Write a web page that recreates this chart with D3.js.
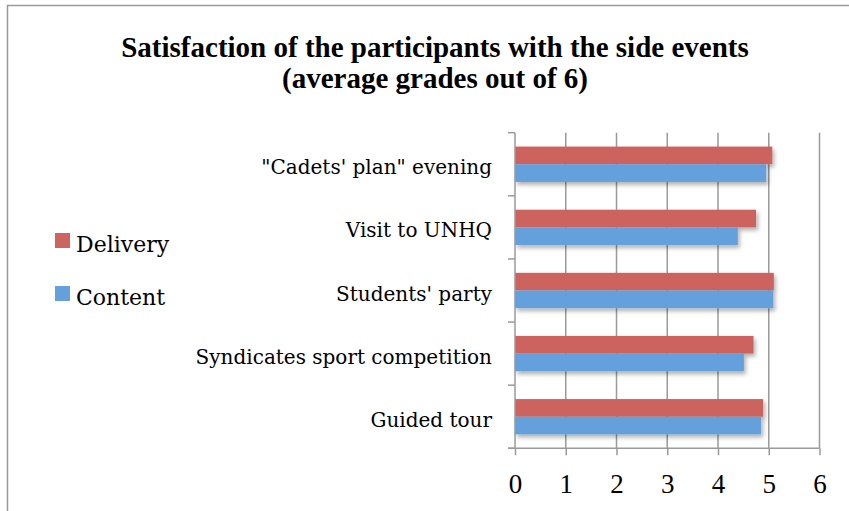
<!DOCTYPE html>
<html>
<head>
<meta charset="utf-8">
<script src="https://cdn.jsdelivr.net/npm/d3@7"></script>
<style>
  html, body { margin: 0; padding: 0; background: #fff; }
  svg { display: block; }
  text { fill: #000; }
</style>
</head>
<body>
<div id="chart"></div>
<script>
// --- DATOS ---
const categories = ["\"Cadets' plan\" evening", "Visit to UNHQ", "Students' party", "Syndicates sport competition", "Guided tour"];
const deliveryValues = [5.07, 4.75, 5.10, 4.70, 4.89];
const contentValues = [4.95, 4.39, 5.09, 4.51, 4.85];
const seriesNames = ["Delivery", "Content"];
const seriesColors = ["#CC645F", "#64A0DC"];
const xTicks = [0, 1, 2, 3, 4, 5, 6];
const titleLines = ["Satisfaction of the participants with the side events", "(average grades out of 6)"];

// --- CONFIGURACIÓN ---
const W = 849, H = 511;
const plot = { left: 515, right: 819.5, top: 132.7, bottom: 448.3 };
const serif = "'Liberation Serif', 'DejaVu Serif', serif";
const wideSerif = "'DejaVu Serif', 'Liberation Serif', serif";
const gridColor = "#9a9a9a";

const svg = d3.select("#chart").append("svg")
    .attr("width", W).attr("height", H);

const defs = svg.append("defs");
const shadow = defs.append("filter").attr("id", "shadow")
    .attr("x", "-5%").attr("y", "-30%").attr("width", "115%").attr("height", "180%");
shadow.append("feDropShadow")
    .attr("dx", 2).attr("dy", 3).attr("stdDeviation", 2)
    .attr("flood-color", "#000").attr("flood-opacity", 0.3);

// marco
svg.append("rect")
    .attr("x", 7.5).attr("y", 5.5).attr("width", W + 10).attr("height", H + 10)
    .attr("fill", "none").attr("stroke", gridColor).attr("stroke-width", 1.5);

// --- ESCALAS ---
const x = d3.scaleLinear().domain([0, 6]).range([plot.left, plot.right]);
const y = d3.scaleBand().domain(categories).range([plot.top, plot.bottom]).paddingInner(0.44).paddingOuter(0.22);
const ySub = d3.scaleBand().domain(seriesNames).range([0, y.bandwidth()]);

// cuadrícula
svg.append("g").selectAll("line").data(xTicks.slice(1)).enter().append("line")
    .attr("x1", d => x(d)).attr("x2", d => x(d))
    .attr("y1", plot.top).attr("y2", plot.bottom)
    .attr("stroke", gridColor).attr("stroke-width", 1.5);

// --- BARRAS ---
const rows = categories.map((c, i) => ({ cat: c, values: [deliveryValues[i], contentValues[i]] }));
const barGroups = svg.append("g").attr("filter", "url(#shadow)")
    .selectAll("g").data(rows).enter().append("g")
    .attr("transform", d => `translate(0,${y(d.cat)})`);

barGroups.selectAll("rect")
    .data(d => d.values.map((v, k) => ({ name: seriesNames[k], value: v, color: seriesColors[k] })))
    .enter().append("rect")
    .attr("x", x(0))
    .attr("y", d => ySub(d.name))
    .attr("width", d => x(d.value) - x(0))
    .attr("height", ySub.bandwidth())
    .attr("fill", d => d.color);

// --- EJES ---
const xAxis = d3.axisBottom(x).tickValues(xTicks).tickFormat(d3.format("d")).tickSize(7).tickPadding(19);
const gx = svg.append("g").attr("transform", `translate(0,${plot.bottom})`).call(xAxis);
gx.select(".domain").attr("stroke", gridColor).attr("stroke-width", 1.5).attr("d", `M${plot.left - 7},0H${plot.right}`);
gx.selectAll(".tick line").attr("stroke", gridColor).attr("stroke-width", 1.5);
gx.selectAll(".tick text").style("font-size", "27px").style("font-family", serif).attr("fill", "#000");

// eje Y con marcas en los límites de las categorías
const bounds = categories.map(c => y(c) - y.step() * y.paddingInner() / 2);
bounds.push(plot.bottom);
const gy = svg.append("g");
gy.append("line")
    .attr("x1", plot.left).attr("x2", plot.left)
    .attr("y1", plot.top).attr("y2", plot.bottom)
    .attr("stroke", gridColor).attr("stroke-width", 1.5);
gy.selectAll(".ytick").data(bounds).enter().append("line")
    .attr("x1", plot.left - 7).attr("x2", plot.left)
    .attr("y1", d => d).attr("y2", d => d)
    .attr("stroke", gridColor).attr("stroke-width", 1.5);

gy.selectAll(".ylabel").data(categories).enter().append("text")
    .attr("x", 492)
    .attr("y", d => y(d) + y.bandwidth() / 2 + 3)
    .attr("dy", "0.35em")
    .attr("text-anchor", "end")
    .style("font-family", wideSerif)
    .style("font-size", "20px")
    .text(d => d);

// --- TÍTULO ---
svg.append("g").selectAll("text").data(titleLines).enter().append("text")
    .attr("x", 435)
    .attr("y", (d, i) => 57 + i * 31)
    .attr("text-anchor", "middle")
    .style("font-family", serif)
    .style("font-size", "29px")
    .style("font-weight", "bold")
    .text(d => d);

// --- LEYENDA ---
const legend = svg.append("g").selectAll("g").data(seriesNames).enter().append("g")
    .attr("transform", (d, i) => `translate(55,${233 + i * 53})`);
legend.append("rect").attr("width", 15).attr("height", 15)
    .attr("fill", (d, i) => seriesColors[i]);
legend.append("text").attr("x", 21).attr("y", 18.5)
    .style("font-family", wideSerif)
    .style("font-size", "22px")
    .text(d => d);
</script>
</body>
</html>
